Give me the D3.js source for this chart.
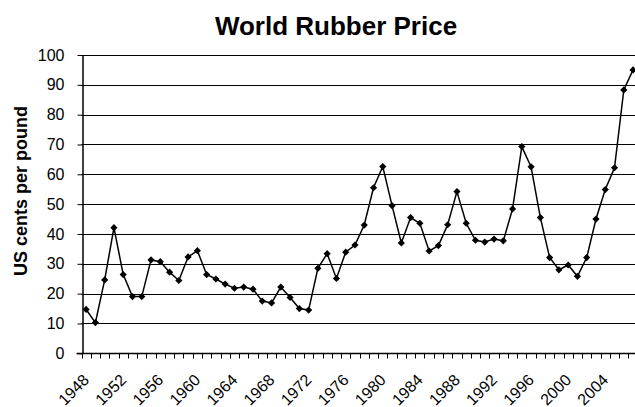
<!DOCTYPE html>
<html>
<head>
<meta charset="utf-8">
<script src="https://cdn.jsdelivr.net/npm/d3@7"></script>
<style>
  body { margin: 0; background: #fff; }
  svg { display: block; font-family: "Liberation Sans", Arial, sans-serif; }
</style>
</head>
<body>
<svg id="chart" width="635" height="407"></svg>
<script>
// years on the category axis, 1948 .. 2007
var years = d3.range(1948, 2008);

// price, US cents per pound
var prices = [
  14.7, 10.3, 24.6, 42.1, 26.4, 19.0, 19.0, 31.3, 30.7, 27.2,
  24.4, 32.3, 34.4, 26.4, 24.9, 23.2, 21.8, 22.2, 21.5, 17.5,
  16.9, 22.2, 18.7, 15.0, 14.5, 28.5, 33.4, 25.1, 33.9, 36.3,
  43.0, 55.5, 62.6, 49.5, 37.0, 45.5, 43.6, 34.3, 36.1, 43.1,
  54.2, 43.6, 37.9, 37.3, 38.3, 37.7, 48.4, 69.3, 62.5, 45.5,
  32.1, 28.0, 29.6, 25.8, 32.1, 45.0, 54.9, 62.2, 88.3, 95.0
];

var yTicks = d3.range(0, 101, 10);
var labelYears = years.filter(function (y) { return (y - 1948) % 4 === 0; });

var svg = d3.select('#chart');

var plotL = 81.5, plotR = 637.7, plotT = 55, plotB = 353.3;

var x = d3.scaleBand().domain(years).range([plotL, plotR]);
var y = d3.scaleLinear().domain([0, 100]).range([plotB, plotT]);

// title
svg.append('text')
  .attr('x', 336).attr('y', 35)
  .attr('text-anchor', 'middle')
  .style('font-size', '26px').style('font-weight', 'bold')
  .text('World Rubber Price');

// y axis title
svg.append('text')
  .attr('transform', 'translate(27,191) rotate(-90)')
  .attr('text-anchor', 'middle')
  .style('font-size', '18px').style('font-weight', 'bold')
  .text('US cents per pound');

// gridlines
svg.append('g').selectAll('line').data(yTicks.slice(1)).enter().append('line')
  .attr('x1', plotL).attr('x2', plotR)
  .attr('y1', function (d) { return Math.round(y(d)) + 0.5; })
  .attr('y2', function (d) { return Math.round(y(d)) + 0.5; })
  .attr('stroke', '#000').attr('stroke-width', 1);

// y axis
var yAxis = svg.append('g')
  .attr('transform', 'translate(' + (Math.round(plotL) + 0.5) + ',0)')
  .call(d3.axisLeft(y).tickValues(yTicks).tickSize(5).tickPadding(13).tickSizeOuter(0));
yAxis.select('.domain').attr('stroke', '#000').attr('stroke-width', 1.5);
yAxis.selectAll('.tick line').attr('stroke', '#000');
yAxis.selectAll('.tick text')
  .style('font-size', '16px').attr('fill', '#000');

// x axis: ticks at category boundaries
var xAxis = svg.append('g')
  .attr('transform', 'translate(0,' + (Math.round(plotB) + 0.5) + ')');
xAxis.append('line')
  .attr('x1', plotL - 5).attr('x2', plotR)
  .attr('stroke', '#000').attr('stroke-width', 1.5);
xAxis.selectAll('.xt').data(years).enter().append('line')
  .attr('class', 'xt')
  .attr('x1', function (d) { return Math.round(x(d)) + 0.5; })
  .attr('x2', function (d) { return Math.round(x(d)) + 0.5; })
  .attr('y1', 0).attr('y2', 5)
  .attr('stroke', '#000');
xAxis.selectAll('.xl').data(labelYears).enter().append('text')
  .attr('class', 'xl')
  .attr('text-anchor', 'end')
  .attr('transform', function (d) {
    return 'translate(' + (x(d) + x.bandwidth() / 2 + 4) + ',27.5) rotate(-45)';
  })
  .style('font-size', '16px')
  .text(function (d) { return d; });

// series line
var cx = function (d, i) { return x(years[i]) + x.bandwidth() / 2; };
svg.append('path')
  .datum(prices)
  .attr('fill', 'none').attr('stroke', '#000').attr('stroke-width', 1.5)
  .attr('d', d3.line().x(cx).y(function (d) { return y(d); }));

// diamond markers
svg.append('g').selectAll('path').data(prices).enter().append('path')
  .attr('transform', function (d, i) { return 'translate(' + cx(d, i) + ',' + y(d) + ')'; })
  .attr('d', 'M0,-3.6L3.6,0L0,3.6L-3.6,0Z')
  .attr('fill', '#000');
</script>
</body>
</html>
